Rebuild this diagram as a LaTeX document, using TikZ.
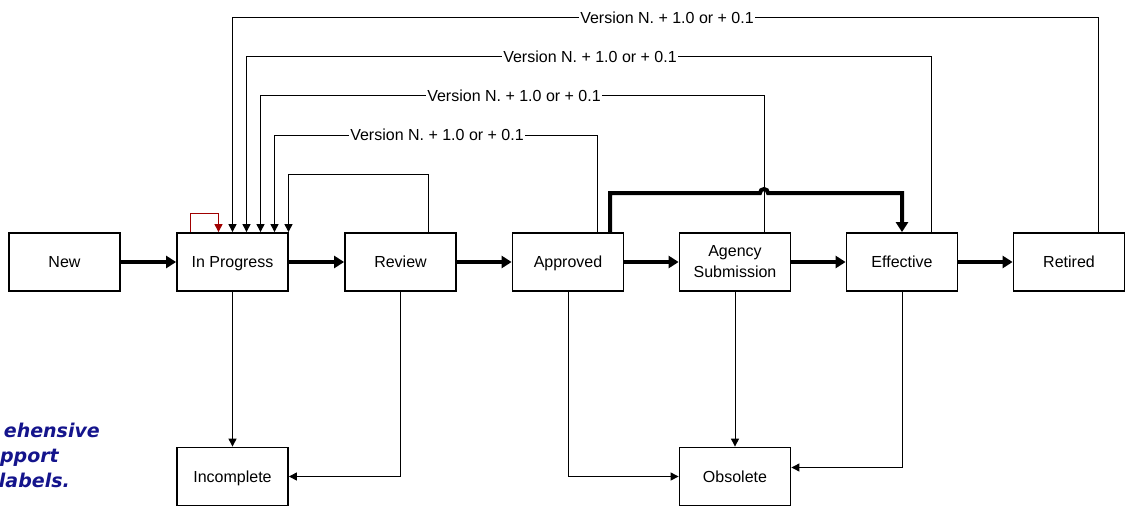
\documentclass[tikz,border=0pt]{standalone}
\usepackage{fontspec}
\setmainfont{Liberation Sans}
\newfontfamily\notefont{DejaVu Sans}
\usetikzlibrary{arrows.meta}
\definecolor{loopred}{RGB}{160,0,0}
\definecolor{notenavy}{RGB}{20,20,140}
\tikzset{
	state/.style={draw, line width=1.8pt, minimum width=111pt, minimum height=58pt,
		inner sep=0pt, align=center, text height=11.5pt, text depth=0pt,
		font=\fontsize{16}{21}\selectfont},
	flow/.style={line width=4pt, -{Triangle[length=10pt,width=12pt]}},
	link/.style={line width=1pt, -{Triangle[length=8pt,width=8pt]}},
	verlabel/.style={fill=white, inner sep=1pt, font=\fontsize{16}{19}\selectfont},
	note/.style={anchor=base east, inner sep=0pt, text=notenavy,
		font=\notefont\bfseries\itshape\fontsize{19}{20}\selectfont}
}
\begin{document}
\begin{tikzpicture}[x=1pt,y=-1pt]
	\useasboundingbox (0,0) rectangle (1126,508);
	\node[state] (new) at (64.5,262) {New};
	\node[state] (inprogress) at (232.5,262) {In Progress};
	\node[state] (review) at (400.5,262) {Review};
	\node[state] (approved) at (568,262) {Approved};
	\node[state, text height={}, text depth={}] (agency) at (735,262) {Agency\\Submission};
	\node[state] (effective) at (902,262) {Effective};
	\node[state] (retired) at (1069,262) {Retired};
	\node[state] (incomplete) at (232.5,476.5) {Incomplete};
	\node[state] (obsolete) at (735,476.5) {Obsolete};

	\draw[flow] (new) -- (inprogress);
	\draw[flow] (inprogress) -- (review);
	\draw[flow] (review) -- (approved);
	\draw[flow] (approved) -- (agency);
	\draw[flow] (agency) -- (effective);
	\draw[flow] (effective) -- (retired);

	\draw[link] ([xshift=29pt]retired.north) |- (232.5,18) -- (inprogress.north);
	\draw[link] ([xshift=29pt]effective.north) |- (246.5,57) -- ([xshift=14pt]inprogress.north);
	\draw[link] ([xshift=29pt]agency.north) |- (260.5,96) -- ([xshift=28pt]inprogress.north);
	\draw[link] ([xshift=29pt]approved.north) |- (274.5,135) -- ([xshift=42pt]inprogress.north);
	\draw[link] ([xshift=28pt]review.north) |- (288.5,174) -- ([xshift=56pt]inprogress.north);
	\draw[link, loopred] ([xshift=-42pt]inprogress.north) |- (218.5,213) -- ([xshift=-14pt]inprogress.north);

	\node[verlabel] (ver1) at (667,18) {Version N. + 1.0 or + 0.1};
	\node[verlabel] (ver2) at (590,57) {Version N. + 1.0 or + 0.1};
	\node[verlabel] (ver3) at (514,96) {Version N. + 1.0 or + 0.1};
	\node[verlabel] (ver4) at (437,135) {Version N. + 1.0 or + 0.1};

	\draw[flow] ([xshift=42pt]approved.north) |- (760,193)
		arc[start angle=180, end angle=0, radius=4pt] -- (902,193) -- (effective.north);

	\draw[link] (inprogress) -- (incomplete);
	\draw[link] (review.south) |- (incomplete.east);
	\draw[link] (approved.south) |- (obsolete.west);
	\draw[link] (agency) -- (obsolete);
	\draw[link] (effective.south) |- ([yshift=9pt]obsolete.east);

	\node[note] (notea) at (100,437) {ehensive};
	\node[note] (noteb) at (59,462) {pport};
	\node[note] (notec) at (70,487) {labels.};
\end{tikzpicture}
\end{document}
